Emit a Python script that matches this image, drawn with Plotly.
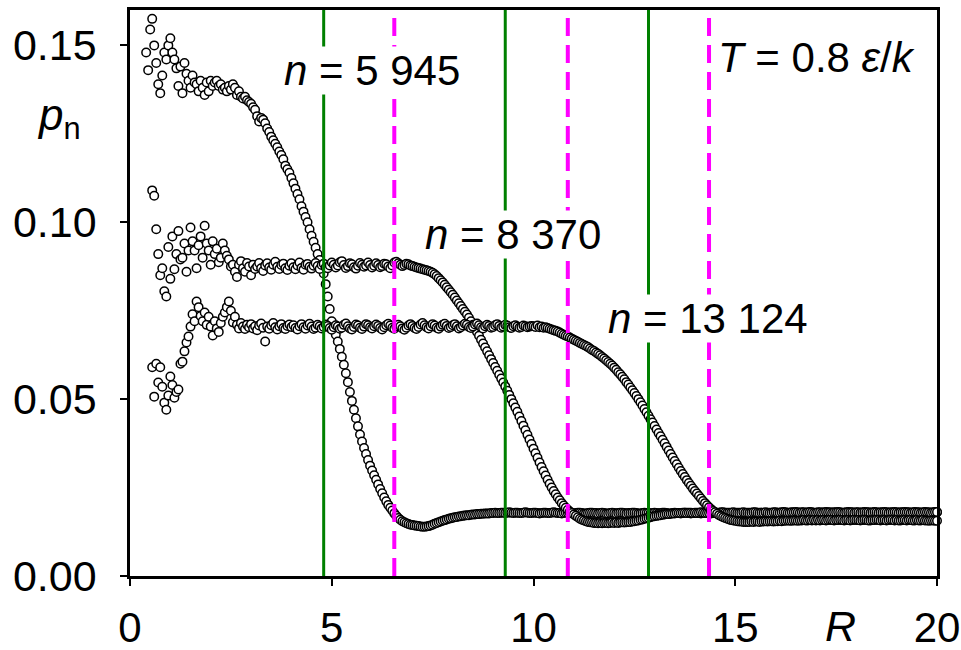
import plotly.graph_objects as go

# ---------------- data ----------------
# p_n on an R grid: R = 0.00, 0.05, ..., 20.00  (401 samples; None = no point)
R_START = 0.0
R_STEP = 0.05

P_N5945 = [
    None, None, None, None, None, None, None, None, 0.1480, 0.1430, 0.1545, 0.1575, 0.1500, 0.1450, 0.1390, 0.1365, 0.1415, 0.1480, 0.1460, 0.1500,  # 0
    0.1520, 0.1480, 0.1460, 0.1435, 0.1385, 0.1440, 0.1365, 0.1450, 0.1420, 0.1400, 0.1380, 0.1415, 0.1395, 0.1390, 0.1370, 0.1400, 0.1380, 0.1360, 0.1395, 0.1370,  # 1
    0.1400, 0.1385, 0.1395, 0.1400, 0.1385, 0.1390, 0.1375, 0.1380, 0.1370, 0.1385, 0.1375, 0.1390, 0.1380, 0.1360, 0.1370, 0.1355, 0.1350, 0.1355, 0.1345, 0.1340,  # 2
    0.1335, 0.1325, 0.1318, 0.1300, 0.1285, 0.1295, 0.1290, 0.1280, 0.1265, 0.1255, 0.1242, 0.1232, 0.1222, 0.1212, 0.1200, 0.1190, 0.1178, 0.1160, 0.1150, 0.1140,  # 3
    0.1125, 0.1110, 0.1095, 0.1080, 0.1065, 0.1045, 0.1030, 0.1015, 0.1000, 0.0980, 0.0962, 0.0945, 0.0928, 0.0910, 0.0893, 0.0876, 0.0855, 0.0825, 0.0790, 0.0755,  # 4
    0.0720, 0.0703, 0.0682, 0.0663, 0.0642, 0.0620, 0.0597, 0.0573, 0.0548, 0.0520, 0.0495, 0.0470, 0.0446, 0.0423, 0.0400, 0.0380, 0.0362, 0.0345, 0.0328, 0.0312,  # 5
    0.0298, 0.0285, 0.0272, 0.0259, 0.0246, 0.0234, 0.0222, 0.0211, 0.0201, 0.0193, 0.0185, 0.0177, 0.0170, 0.0164, 0.0159, 0.0155, 0.0152, 0.0149, 0.0147, 0.0145,  # 6
    0.0144, 0.0143, 0.0142, 0.0141, 0.0140, 0.0139, 0.0139, 0.0140, 0.0141, 0.0143, 0.0145, 0.0148, 0.0150, 0.0152, 0.0154, 0.0156, 0.0158, 0.0160, 0.0162, 0.0163,  # 7
    0.0165, 0.0166, 0.0167, 0.0168, 0.0169, 0.0170, 0.0171, 0.0172, 0.0172, 0.0173, 0.0174, 0.0174, 0.0175, 0.0175, 0.0176, 0.0176, 0.0177, 0.0177, 0.0177, 0.0178,  # 8
    0.0178, 0.0179, 0.0178, 0.0178, 0.0179, 0.0179, 0.0178, 0.0179, 0.0180, 0.0179, 0.0178, 0.0179, 0.0179, 0.0178, 0.0178, 0.0179, 0.0180, 0.0179, 0.0178, 0.0178,  # 9
    0.0179, 0.0179, 0.0178, 0.0177, 0.0178, 0.0179, 0.0179, 0.0178, 0.0178, 0.0179, 0.0180, 0.0179, 0.0178, 0.0178, 0.0177, 0.0178, 0.0179, 0.0179, 0.0178, 0.0178,  # 10
    0.0177, 0.0178, 0.0179, 0.0179, 0.0178, 0.0177, 0.0177, 0.0178, 0.0179, 0.0179, 0.0178, 0.0178, 0.0177, 0.0178, 0.0179, 0.0178, 0.0177, 0.0177, 0.0178, 0.0179,  # 11
    0.0178, 0.0177, 0.0178, 0.0179, 0.0179, 0.0178, 0.0177, 0.0178, 0.0178, 0.0179, 0.0179, 0.0178, 0.0177, 0.0177, 0.0178, 0.0179, 0.0178, 0.0178, 0.0177, 0.0178,  # 12
    0.0179, 0.0178, 0.0177, 0.0178, 0.0179, 0.0179, 0.0178, 0.0177, 0.0177, 0.0178, 0.0179, 0.0178, 0.0178, 0.0177, 0.0178, 0.0179, 0.0179, 0.0178, 0.0177, 0.0178,  # 13
    0.0178, 0.0179, 0.0178, 0.0177, 0.0178, 0.0178, 0.0179, 0.0178, 0.0177, 0.0178, 0.0179, 0.0179, 0.0178, 0.0177, 0.0178, 0.0178, 0.0179, 0.0178, 0.0178, 0.0177,  # 14
    0.0178, 0.0179, 0.0179, 0.0178, 0.0177, 0.0178, 0.0178, 0.0179, 0.0178, 0.0177, 0.0177, 0.0178, 0.0179, 0.0179, 0.0178, 0.0177, 0.0178, 0.0179, 0.0178, 0.0178,  # 15
    0.0177, 0.0178, 0.0179, 0.0178, 0.0178, 0.0177, 0.0178, 0.0179, 0.0179, 0.0178, 0.0177, 0.0178, 0.0178, 0.0179, 0.0178, 0.0177, 0.0178, 0.0179, 0.0179, 0.0178,  # 16
    0.0178, 0.0177, 0.0178, 0.0179, 0.0178, 0.0178, 0.0177, 0.0178, 0.0179, 0.0179, 0.0178, 0.0177, 0.0178, 0.0178, 0.0179, 0.0178, 0.0177, 0.0178, 0.0179, 0.0178,  # 17
    0.0179, 0.0178, 0.0177, 0.0178, 0.0178, 0.0179, 0.0179, 0.0178, 0.0177, 0.0178, 0.0179, 0.0178, 0.0178, 0.0177, 0.0178, 0.0179, 0.0179, 0.0178, 0.0177, 0.0178,  # 18
    0.0178, 0.0179, 0.0178, 0.0177, 0.0178, 0.0179, 0.0179, 0.0178, 0.0178, 0.0177, 0.0178, 0.0179, 0.0178, 0.0178, 0.0179, 0.0178, 0.0177, 0.0178, 0.0179, 0.0179,  # 19
    0.0180,  # 20
]

P_N8370 = [
    None, None, None, None, None, None, None, None, None, None, None, 0.1090, 0.1075, 0.0980, 0.0910, 0.0850, 0.0870, 0.0805, 0.0790, 0.0930,  # 0
    0.0840, 0.0960, 0.0867, 0.0910, 0.0975, 0.0895, 0.0900, 0.0940, 0.0860, 0.0920, 0.0985, 0.0946, 0.0920, 0.0870, 0.0935, 0.0960, 0.0900, 0.0990, 0.0940, 0.0920,  # 1
    0.0880, 0.0946, 0.0910, 0.0925, 0.0887, 0.0900, 0.0940, 0.0920, 0.0905, 0.0895, 0.0875, 0.0880, 0.0860, 0.0845, 0.0880, 0.0890, 0.0870, 0.0860, 0.0885, 0.0875,  # 2
    0.0850, 0.0880, 0.0868, 0.0875, 0.0885, 0.0870, 0.0862, 0.0878, 0.0884, 0.0872, 0.0866, 0.0880, 0.0888, 0.0874, 0.0868, 0.0879, 0.0883, 0.0870, 0.0865, 0.0877,  # 3
    0.0884, 0.0873, 0.0867, 0.0878, 0.0886, 0.0871, 0.0866, 0.0880, 0.0882, 0.0874, 0.0869, 0.0877, 0.0885, 0.0876, 0.0868, 0.0879, 0.0883, 0.0872, 0.0870, 0.0878,  # 4
    0.0886, 0.0880, 0.0872, 0.0878, 0.0887, 0.0890, 0.0879, 0.0871, 0.0876, 0.0884, 0.0881, 0.0873, 0.0869, 0.0877, 0.0885, 0.0880, 0.0874, 0.0878, 0.0886, 0.0879,  # 5
    0.0872, 0.0877, 0.0884, 0.0879, 0.0873, 0.0876, 0.0883, 0.0881, 0.0875, 0.0870, 0.0878, 0.0886, 0.0888, 0.0884, 0.0880, 0.0876, 0.0879, 0.0883, 0.0881, 0.0878,  # 6
    0.0876, 0.0874, 0.0872, 0.0871, 0.0869, 0.0867, 0.0866, 0.0864, 0.0862, 0.0860, 0.0857, 0.0853, 0.0848, 0.0842, 0.0836, 0.0830, 0.0823, 0.0816, 0.0809, 0.0802,  # 7
    0.0795, 0.0787, 0.0779, 0.0771, 0.0763, 0.0755, 0.0747, 0.0739, 0.0730, 0.0720, 0.0710, 0.0700, 0.0690, 0.0679, 0.0668, 0.0657, 0.0646, 0.0635, 0.0624, 0.0613,  # 8
    0.0602, 0.0591, 0.0580, 0.0569, 0.0558, 0.0547, 0.0536, 0.0524, 0.0512, 0.0500, 0.0488, 0.0476, 0.0464, 0.0451, 0.0438, 0.0425, 0.0412, 0.0399, 0.0386, 0.0373,  # 9
    0.0360, 0.0347, 0.0334, 0.0321, 0.0308, 0.0296, 0.0284, 0.0272, 0.0261, 0.0250, 0.0240, 0.0231, 0.0222, 0.0214, 0.0206, 0.0199, 0.0193, 0.0187, 0.0182, 0.0178,  # 10
    0.0174, 0.0170, 0.0166, 0.0162, 0.0159, 0.0157, 0.0155, 0.0153, 0.0152, 0.0151, 0.0150, 0.0150, 0.0149, 0.0150, 0.0149, 0.0150, 0.0150, 0.0149, 0.0150, 0.0151,  # 11
    0.0150, 0.0151, 0.0150, 0.0151, 0.0152, 0.0151, 0.0152, 0.0153, 0.0153, 0.0154, 0.0155, 0.0156, 0.0157, 0.0159, 0.0160, 0.0162, 0.0163, 0.0165, 0.0166, 0.0168,  # 12
    0.0169, 0.0170, 0.0171, 0.0172, 0.0173, 0.0174, 0.0175, 0.0175, 0.0176, 0.0177, 0.0177, 0.0178, 0.0178, 0.0178, 0.0179, 0.0179, 0.0178, 0.0179, 0.0179, 0.0178,  # 13
    0.0179, 0.0178, 0.0179, 0.0180, 0.0179, 0.0178, 0.0178, 0.0179, 0.0180, 0.0179, 0.0179, 0.0178, 0.0179, 0.0180, 0.0180, 0.0179, 0.0178, 0.0179, 0.0179, 0.0180,  # 14
    0.0179, 0.0178, 0.0178, 0.0179, 0.0180, 0.0179, 0.0179, 0.0178, 0.0179, 0.0180, 0.0180, 0.0179, 0.0178, 0.0179, 0.0179, 0.0180, 0.0179, 0.0178, 0.0179, 0.0180,  # 15
    0.0180, 0.0179, 0.0179, 0.0180, 0.0181, 0.0180, 0.0179, 0.0179, 0.0180, 0.0180, 0.0181, 0.0180, 0.0179, 0.0180, 0.0180, 0.0179, 0.0180, 0.0181, 0.0180, 0.0179,  # 16
    0.0179, 0.0180, 0.0180, 0.0179, 0.0180, 0.0181, 0.0180, 0.0180, 0.0179, 0.0180, 0.0180, 0.0181, 0.0180, 0.0179, 0.0179, 0.0180, 0.0181, 0.0180, 0.0180, 0.0179,  # 17
    0.0180, 0.0180, 0.0179, 0.0180, 0.0181, 0.0180, 0.0180, 0.0179, 0.0180, 0.0181, 0.0180, 0.0179, 0.0180, 0.0180, 0.0181, 0.0180, 0.0179, 0.0180, 0.0180, 0.0181,  # 18
    0.0180, 0.0179, 0.0180, 0.0180, 0.0181, 0.0180, 0.0180, 0.0179, 0.0180, 0.0181, 0.0180, 0.0180, 0.0179, 0.0180, 0.0181, 0.0180, 0.0180, 0.0179, 0.0180, 0.0181,  # 19
    0.0181,  # 20
]

P_N13124 = [
    None, None, None, None, None, None, None, None, None, None, None, 0.0590, 0.0507, 0.0600, 0.0547, 0.0590, 0.0535, 0.0490, 0.0470, 0.0510,  # 0
    0.0564, 0.0540, 0.0504, 0.0520, 0.0527, 0.0600, 0.0606, 0.0635, 0.0660, 0.0677, 0.0705, 0.0740, 0.0720, 0.0776, 0.0760, 0.0735, 0.0720, 0.0745, 0.0710, 0.0733,  # 1
    0.0705, 0.0680, 0.0720, 0.0700, 0.0690, 0.0715, 0.0733, 0.0745, 0.0760, 0.0776, 0.0750, 0.0717, 0.0733, 0.0710, 0.0700, 0.0715, 0.0705, 0.0698, 0.0710, 0.0703,  # 2
    0.0712, 0.0700, 0.0706, 0.0695, 0.0708, 0.0714, 0.0702, 0.0663, 0.0705, 0.0699, 0.0709, 0.0715, 0.0703, 0.0697, 0.0706, 0.0712, 0.0701, 0.0698, 0.0707, 0.0711,  # 3
    0.0704, 0.0709, 0.0701, 0.0697, 0.0706, 0.0712, 0.0703, 0.0699, 0.0708, 0.0713, 0.0705, 0.0698, 0.0702, 0.0710, 0.0706, 0.0700, 0.0704, 0.0711, 0.0707, 0.0701,  # 4
    0.0696, 0.0703, 0.0709, 0.0705, 0.0699, 0.0702, 0.0710, 0.0714, 0.0706, 0.0700, 0.0697, 0.0704, 0.0711, 0.0708, 0.0702, 0.0698, 0.0705, 0.0712, 0.0709, 0.0703,  # 5
    0.0700, 0.0706, 0.0711, 0.0707, 0.0701, 0.0697, 0.0703, 0.0709, 0.0713, 0.0708, 0.0702, 0.0699, 0.0705, 0.0710, 0.0706, 0.0700, 0.0696, 0.0702, 0.0708, 0.0712,  # 6
    0.0707, 0.0701, 0.0698, 0.0704, 0.0711, 0.0715, 0.0709, 0.0703, 0.0700, 0.0706, 0.0712, 0.0708, 0.0702, 0.0699, 0.0705, 0.0710, 0.0713, 0.0707, 0.0701, 0.0704,  # 7
    0.0709, 0.0712, 0.0706, 0.0700, 0.0703, 0.0708, 0.0713, 0.0710, 0.0704, 0.0701, 0.0705, 0.0711, 0.0714, 0.0709, 0.0703, 0.0700, 0.0706, 0.0710, 0.0707, 0.0702,  # 8
    0.0704, 0.0709, 0.0712, 0.0707, 0.0702, 0.0705, 0.0710, 0.0708, 0.0703, 0.0701, 0.0706, 0.0709, 0.0705, 0.0702, 0.0704, 0.0708, 0.0706, 0.0703, 0.0705, 0.0707,  # 9
    0.0706, 0.0704, 0.0708, 0.0703, 0.0705, 0.0702, 0.0703, 0.0701, 0.0699, 0.0697, 0.0695, 0.0693, 0.0691, 0.0688, 0.0685, 0.0682, 0.0679, 0.0677, 0.0674, 0.0671,  # 10
    0.0668, 0.0665, 0.0662, 0.0659, 0.0656, 0.0653, 0.0650, 0.0647, 0.0643, 0.0639, 0.0636, 0.0632, 0.0628, 0.0624, 0.0619, 0.0615, 0.0610, 0.0605, 0.0600, 0.0595,  # 11
    0.0589, 0.0583, 0.0576, 0.0570, 0.0563, 0.0556, 0.0548, 0.0541, 0.0533, 0.0525, 0.0517, 0.0509, 0.0500, 0.0491, 0.0482, 0.0472, 0.0463, 0.0453, 0.0443, 0.0434,  # 12
    0.0424, 0.0414, 0.0404, 0.0395, 0.0385, 0.0375, 0.0365, 0.0355, 0.0345, 0.0335, 0.0325, 0.0316, 0.0306, 0.0297, 0.0288, 0.0280, 0.0271, 0.0263, 0.0255, 0.0247,  # 13
    0.0240, 0.0233, 0.0226, 0.0219, 0.0212, 0.0206, 0.0200, 0.0194, 0.0189, 0.0184, 0.0180, 0.0176, 0.0172, 0.0169, 0.0166, 0.0164, 0.0162, 0.0160, 0.0158, 0.0157,  # 14
    0.0156, 0.0155, 0.0154, 0.0154, 0.0153, 0.0153, 0.0153, 0.0153, 0.0154, 0.0153, 0.0154, 0.0154, 0.0153, 0.0154, 0.0154, 0.0155, 0.0154, 0.0155, 0.0155, 0.0154,  # 15
    0.0155, 0.0155, 0.0156, 0.0155, 0.0156, 0.0156, 0.0157, 0.0156, 0.0156, 0.0157, 0.0157, 0.0156, 0.0157, 0.0157, 0.0158, 0.0157, 0.0157, 0.0158, 0.0157, 0.0158,  # 16
    0.0157, 0.0158, 0.0157, 0.0158, 0.0158, 0.0157, 0.0158, 0.0159, 0.0158, 0.0157, 0.0158, 0.0158, 0.0159, 0.0158, 0.0157, 0.0158, 0.0158, 0.0157, 0.0158, 0.0159,  # 17
    0.0158, 0.0158, 0.0157, 0.0158, 0.0159, 0.0158, 0.0157, 0.0157, 0.0158, 0.0158, 0.0159, 0.0158, 0.0157, 0.0158, 0.0158, 0.0157, 0.0158, 0.0159, 0.0158, 0.0157,  # 18
    0.0158, 0.0157, 0.0157, 0.0158, 0.0158, 0.0157, 0.0158, 0.0158, 0.0157, 0.0157, 0.0158, 0.0157, 0.0157, 0.0158, 0.0157, 0.0157, 0.0156, 0.0157, 0.0157, 0.0156,  # 19
    0.0156,  # 20
]

for _s in (P_N5945, P_N8370, P_N13124):
    assert len(_s) == 401, len(_s)

SERIES_NAMES = ["n = 5 945", "n = 8 370", "n = 13 124"]

# vertical reference lines (R values)
GREEN_R = [4.8, 9.3, 12.85]
MAGENTA_R = [6.55, 10.85, 14.35]

# labels: (text, R, p)
LABELS = [
    ("<i>n</i> = 5 945", 5.99, 0.1430),
    ("<i>n</i> = 8 370", 9.50, 0.0966),
    ("<i>n</i> = 13 124", 14.32, 0.0728),
]
T_LABEL = ("<i>T</i> = 0.8 <i>ε</i>/<i>k</i>", 17.02, 0.1465)

X_TICKS = [0, 5, 10, 15, 20]
Y_TICKS = [0.00, 0.05, 0.10, 0.15]
X_RANGE = [0, 20]
Y_RANGE = [0, 0.16]

FONT = "Arial, 'Liberation Sans', sans-serif"

fig = go.Figure()
for name, vals in zip(SERIES_NAMES, (P_N5945, P_N8370, P_N13124)):
    fig.add_trace(go.Scatter(
        x0=R_START, dx=R_STEP, y=vals, mode="markers", name=name,
        marker=dict(symbol="circle", size=8.5, color="white",
                    line=dict(color="black", width=1.5)),
        showlegend=False, cliponaxis=False,
    ))

for r in GREEN_R:
    fig.add_shape(type="line", xref="x", yref="y", x0=r, x1=r,
                  y0=Y_RANGE[0], y1=Y_RANGE[1],
                  line=dict(color="#008000", width=3), layer="above")
for r in MAGENTA_R:
    fig.add_shape(type="line", xref="x", yref="y", x0=r, x1=r,
                  y0=Y_RANGE[0], y1=Y_RANGE[1],
                  line=dict(color="#FF00FF", width=4, dash="18px,9px"), layer="above")

for text, xr, yp in LABELS:
    fig.add_annotation(x=xr, y=yp, xref="x", yref="y", text=text, showarrow=False,
                       font=dict(family=FONT, size=42, color="black"),
                       bgcolor="white", borderpad=0, xanchor="center", yanchor="middle")

fig.add_annotation(x=T_LABEL[1], y=T_LABEL[2], xref="x", yref="y", text=T_LABEL[0],
                   showarrow=False, font=dict(family=FONT, size=42, color="black"),
                   xanchor="center", yanchor="middle")

# axis titles
fig.add_annotation(x=-0.088, y=0.81, xref="paper", yref="paper",
                   text="<i>p</i><sub>n</sub>", showarrow=False,
                   font=dict(family=FONT, size=44, color="black"),
                   xanchor="center", yanchor="middle")
fig.add_annotation(x=17.6, y=-0.088, xref="x", yref="paper",
                   text="<i>R</i>", showarrow=False,
                   font=dict(family=FONT, size=43, color="black"),
                   xanchor="center", yanchor="middle")

fig.update_layout(
    width=961, height=650,
    margin=dict(l=130, r=24, t=10, b=74, autoexpand=False),
    paper_bgcolor="white", plot_bgcolor="white",
    font=dict(family=FONT, size=42, color="black"),
    showlegend=False,
)
fig.update_xaxes(range=X_RANGE, tickvals=X_TICKS, ticks="outside", ticklen=7,
                 tickwidth=2, tickcolor="black", showline=True, linecolor="black",
                 linewidth=2.5, mirror=True, showgrid=False, zeroline=False,
                 automargin=False, ticklabelstandoff=6, tickfont=dict(size=42))
fig.update_yaxes(range=Y_RANGE, tickvals=Y_TICKS, tickformat=".2f", ticks="outside",
                 ticklen=7, tickwidth=2, tickcolor="black", showline=True,
                 linecolor="black", linewidth=2.5, mirror=True, showgrid=False,
                 zeroline=False, automargin=False, ticklabelstandoff=15,
                 tickfont=dict(size=43))

fig.write_html(
    "out.html",
    config={"displayModeBar": False},
    post_script="document.body.style.margin='0px';document.body.style.overflow='hidden';",
)
